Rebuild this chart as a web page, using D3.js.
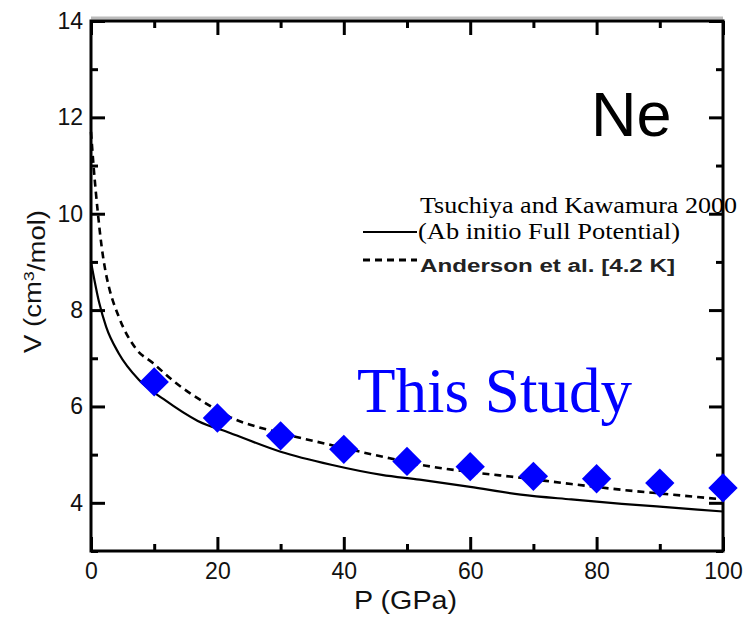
<!DOCTYPE html>
<html>
<head>
<meta charset="utf-8">
<script src="https://cdn.jsdelivr.net/npm/d3@7"></script>
<style>
  body { margin: 0; background: #fff; }
  svg { display: block; }
  .axis path { display: none; }
  .axis line { stroke: #000; stroke-width: 3; }
  .axis text { font-family: "Liberation Sans", Arial, sans-serif; font-size: 23px; fill: #111; }
</style>
</head>
<body>
<svg id="chart"></svg>
<script>
// --- data ---
var majorX = [0, 20, 40, 60, 80, 100],
    minorX = [10, 30, 50, 70, 90],
    majorY = [4, 6, 8, 10, 12, 14],
    minorY = [3, 5, 7, 9, 11, 13];

// This Study (diamonds)
var studyP = [10, 20, 30, 40, 50, 60, 70, 80, 90, 100],
    studyV = [6.51, 5.76, 5.39, 5.11, 4.86, 4.75, 4.55, 4.50, 4.41, 4.31];

// Tsuchiya and Kawamura 2000 (solid)
var tkP = [0, 1.3, 2.4, 4.4, 7.6, 11.5, 16.9, 22, 30, 38, 46, 52, 60, 68, 76, 84, 92, 100],
    tkV = [9.0, 8.15, 7.65, 7.1, 6.55, 6.15, 5.7, 5.45, 5.06, 4.79, 4.58, 4.48, 4.33, 4.17, 4.07, 3.98, 3.9, 3.82];

// Anderson et al. [4.2 K] (dashed)
var anP = [0, 0.4, 1.1, 1.7, 2.3, 2.8, 4.4, 7.1, 9.8, 13.4, 17.5, 22, 30, 38, 46, 53, 60, 68, 76, 84, 92, 100],
    anV = [11.7, 11.0, 10.0, 9.3, 8.8, 8.5, 7.86, 7.2, 6.9, 6.49, 6.12, 5.78, 5.45, 5.2, 4.96, 4.77, 4.64, 4.52, 4.39, 4.27, 4.17, 4.07];

var width = 749,
    height = 622,
    margin = {"top": 21, "right": 26, "bottom": 71, "left": 91};

var svg = d3.select("svg#chart")
    .attr("width", width)
    .attr("height", height);

var x = d3.scaleLinear().domain([0, 100]).range([margin.left, width - margin.right]),
    y = d3.scaleLinear().domain([3, 14]).range([height - margin.bottom, margin.top]);

var x0 = x.range()[0], x1 = x.range()[1],
    y0 = y.range()[0], y1 = y.range()[1];

// faint grey shadow above top edge
svg.append("line")
    .attr("x1", x0).attr("x2", x1)
    .attr("y1", y1 - 3).attr("y2", y1 - 3)
    .attr("stroke", "#bbb")
    .attr("stroke-width", 3);

// axes: major/minor ticks, all pointing inward
function addAxis(axisFn, scale, values, size, transform, labelled, pad) {
    var ax = axisFn(scale)
        .tickValues(values)
        .tickSize(size)
        .tickPadding(pad || 0);
    if (!labelled) ax.tickFormat("");
    svg.append("g")
        .attr("class", "axis")
        .attr("transform", transform)
        .call(ax);
}

addAxis(d3.axisBottom, x, majorX, -14, "translate(0," + y0 + ")", true, 12);
addAxis(d3.axisBottom, x, minorX, -7, "translate(0," + y0 + ")", false);
addAxis(d3.axisTop, x, majorX, -14, "translate(0," + y1 + ")", false);
addAxis(d3.axisTop, x, minorX, -7, "translate(0," + y1 + ")", false);
addAxis(d3.axisLeft, y, majorY, -14, "translate(" + x0 + ",0)", true, 8);
addAxis(d3.axisLeft, y, minorY, -7, "translate(" + x0 + ",0)", false);
addAxis(d3.axisRight, y, majorY, -14, "translate(" + x1 + ",0)", false);
addAxis(d3.axisRight, y, minorY, -7, "translate(" + x1 + ",0)", false);

// frame
svg.append("rect")
    .attr("x", x0).attr("y", y1)
    .attr("width", x1 - x0).attr("height", y0 - y1)
    .attr("fill", "none")
    .attr("stroke", "#000")
    .attr("stroke-width", 3);

// curves
var line = d3.line()
    .x(function(d) { return x(d[0]); })
    .y(function(d) { return y(d[1]); })
    .curve(d3.curveMonotoneX);

svg.append("path")
    .datum(d3.zip(tkP, tkV))
    .attr("d", line)
    .attr("fill", "none")
    .attr("stroke", "#000")
    .attr("stroke-width", 2.2);

svg.append("path")
    .datum(d3.zip(anP, anV))
    .attr("d", line)
    .attr("fill", "none")
    .attr("stroke", "#000")
    .attr("stroke-width", 2.6)
    .attr("stroke-dasharray", "7,5");

// diamonds
var diamond = d3.symbol().type(d3.symbolSquare).size(430);

svg.selectAll("path.study")
    .data(d3.zip(studyP, studyV))
    .enter()
    .append("path")
        .attr("class", "study")
        .attr("d", diamond)
        .attr("fill", "#0000ff")
        .attr("transform", function(d) {
            return "translate(" + [x(d[0]), y(d[1])] + ") rotate(45)";
        });

// axis titles
svg.append("text")
    .attr("x", 354)
    .attr("y", 609)
    .attr("textLength", 103)
    .attr("lengthAdjust", "spacingAndGlyphs")
    .style("font-family", "Liberation Sans, Arial, sans-serif")
    .style("font-size", "25px")
    .style("fill", "#111")
    .text("P (GPa)");

var yTitle = svg.append("text")
    .attr("transform", "translate(41,353) rotate(-90)")
    .attr("textLength", 143)
    .attr("lengthAdjust", "spacingAndGlyphs")
    .style("font-family", "Liberation Sans, Arial, sans-serif")
    .style("font-size", "23px")
    .style("fill", "#111");
yTitle.append("tspan").text("V (cm");
yTitle.append("tspan").attr("dy", "-0.45em").style("font-size", "15px").text("3");
yTitle.append("tspan").attr("dy", "0.45em").text("/mol)");

// annotations
svg.append("text")
    .attr("x", 591)
    .attr("y", 136)
    .style("font-family", "Liberation Sans, Arial, sans-serif")
    .style("font-size", "63px")
    .style("fill", "#000")
    .text("Ne");

svg.append("text")
    .attr("x", 357)
    .attr("y", 412)
    .attr("textLength", 275)
    .attr("lengthAdjust", "spacingAndGlyphs")
    .style("font-family", "Liberation Serif, Times New Roman, serif")
    .style("font-size", "63px")
    .style("fill", "#0000ff")
    .text("This Study");

// legend
var legendRows = [
    {"y": 232, "dash": null},
    {"y": 260, "dash": "7,5"}
];

svg.selectAll("line.legend")
    .data(legendRows)
    .enter()
    .append("line")
        .attr("class", "legend")
        .attr("x1", 363).attr("x2", 417)
        .attr("y1", function(d) { return d.y; })
        .attr("y2", function(d) { return d.y; })
        .attr("stroke", "#000")
        .attr("stroke-width", function(d) { return d.dash ? 3 : 2.2; })
        .attr("stroke-dasharray", function(d) { return d.dash; });

var legendTexts = [
    {"text": "Tsuchiya and Kawamura 2000", "x": 420, "y": 213, "len": 317, "serif": true},
    {"text": "(Ab initio Full Potential)", "x": 418, "y": 239, "len": 262, "serif": true},
    {"text": "Anderson et al. [4.2 K]", "x": 420, "y": 272, "len": 255, "serif": false}
];

svg.selectAll("text.legend")
    .data(legendTexts)
    .enter()
    .append("text")
        .attr("class", "legend")
        .attr("x", function(d) { return d.x; })
        .attr("y", function(d) { return d.y; })
        .attr("textLength", function(d) { return d.len; })
        .attr("lengthAdjust", "spacingAndGlyphs")
        .style("font-family", function(d) {
            return d.serif ? "Liberation Serif, Times New Roman, serif" : "Liberation Sans, Arial, sans-serif";
        })
        .style("font-size", function(d) { return d.serif ? "23px" : "18px"; })
        .style("font-weight", function(d) { return d.serif ? "normal" : "bold"; })
        .style("fill", function(d) { return d.serif ? "#000" : "#222"; })
        .text(function(d) { return d.text; });
</script>
</body>
</html>
